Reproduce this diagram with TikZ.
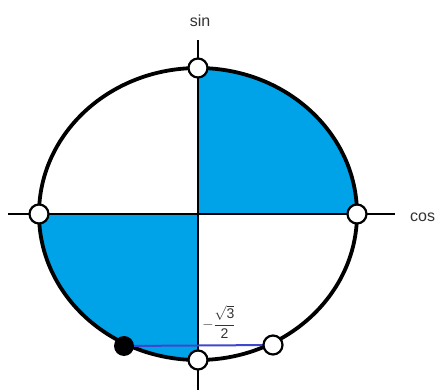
\documentclass[tikz,border=0pt]{standalone}
\usepackage{fontspec}
\setmainfont{Liberation Sans}
\setsansfont{Liberation Sans}
\definecolor{fillblue}{HTML}{00A2E8}
\definecolor{lineblue}{HTML}{3F48CC}
\begin{document}
\begin{tikzpicture}[x=1pt,y=-1pt,
  axis/.style={line width=2.2pt,black},
  ring/.style={line width=3.8pt,black},
  opendot/.style={circle,draw=black,line width=2.2pt,fill=white,minimum size=19pt,inner sep=0pt},
  fulldot/.style={circle,fill=black,minimum size=20pt,inner sep=0pt},
  lbl/.style={font=\fontsize{16}{18}\selectfont,text=black!80,inner sep=0pt}]
\useasboundingbox (0,0) rectangle (439,390);
\coordinate (O) at (198,214);
% filled quadrants
\fill[fillblue] (O) -- ++(159pt,0pt) arc[start angle=0,end angle=90,x radius=159pt,y radius=146pt] -- cycle;
\fill[fillblue] (O) -- ++(-159pt,0pt) arc[start angle=180,end angle=270,x radius=159pt,y radius=146pt] -- cycle;
% axes
\coordinate (vt) at (198,40);
\coordinate (vb) at (198,390);
\coordinate (hl) at (8,214);
\coordinate (hr) at (395,214);
\draw[axis] (vt) -- (vb);
\draw[axis] (hl) -- (hr);
% circle
\draw[ring] (O) ellipse[x radius=159pt,y radius=146pt];
% blue chord
\coordinate (p) at (124,346);
\coordinate (q) at (273,345);
\draw[lineblue,line width=2pt] (p) -- (q);
% dots
\node[opendot] (top) at (198,68) {};
\node[opendot] (bot) at (198,360) {};
\node[opendot] (left) at (39,214) {};
\node[opendot] (right) at (357,214) {};
\node[opendot] (Q) at (q) {};
\node[fulldot] (P) at (p) {};
% labels
\node[lbl] (sin) at (200,21) {sin};
\node[lbl,anchor=west] (cos) at (410,217) {cos};
\node[inner sep=0pt,text=black!80,font=\fontsize{14}{16}\selectfont] (frac) at (219,322) {$\displaystyle -\frac{\sqrt{\mathsf{3}}}{\mathsf{2}}$};
\end{tikzpicture}
\end{document}
